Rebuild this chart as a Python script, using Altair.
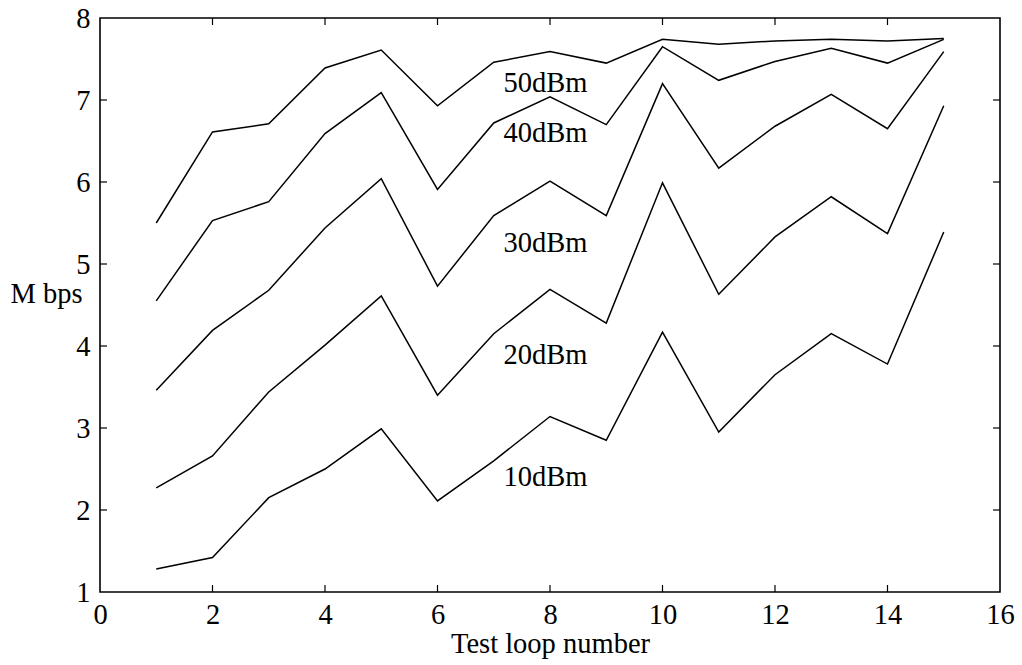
import altair as alt
import pandas as pd

loops = list(range(1, 16))
s50 = [5.50, 6.61, 6.71, 7.39, 7.61, 6.93, 7.46, 7.59, 7.45, 7.74, 7.68, 7.72, 7.74, 7.72, 7.75]
s40 = [4.55, 5.53, 5.76, 6.59, 7.09, 5.91, 6.72, 7.04, 6.70, 7.65, 7.24, 7.47, 7.63, 7.45, 7.74]
s30 = [3.46, 4.19, 4.68, 5.44, 6.04, 4.73, 5.59, 6.01, 5.59, 7.20, 6.17, 6.68, 7.07, 6.65, 7.59]
s20 = [2.27, 2.66, 3.44, 4.01, 4.61, 3.40, 4.15, 4.69, 4.28, 5.99, 4.63, 5.33, 5.82, 5.37, 6.93]
s10 = [1.28, 1.42, 2.15, 2.50, 2.99, 2.11, 2.60, 3.14, 2.85, 4.17, 2.95, 3.65, 4.15, 3.78, 5.39]

series_names = ["50dBm", "40dBm", "30dBm", "20dBm", "10dBm"]
label_x = [7.92, 7.92, 7.92, 7.92, 7.92]
label_y = [7.21, 6.60, 5.26, 3.89, 2.40]

x_ticks = [0, 2, 4, 6, 8, 10, 12, 14, 16]
y_ticks = [1, 2, 3, 4, 5, 6, 7, 8]

rows = []
for name, vals in zip(series_names, [s50, s40, s30, s20, s10]):
    for x, v in zip(loops, vals):
        rows.append({"loop": x, "mbps": v, "series": name})
df = pd.DataFrame(rows)
labels_df = pd.DataFrame({"x": label_x, "y": label_y, "text": series_names})
xt_df = pd.DataFrame({"t": x_ticks[1:-1]})
yt_df = pd.DataFrame({"t": y_ticks[1:-1]})

W, H = 900, 574
FONT = "Liberation Serif"
FS = 28.5

xscale = alt.Scale(domain=[0, 16], nice=False, zero=False)
yscale = alt.Scale(domain=[1, 8], nice=False, zero=False)

xaxis = alt.Axis(values=x_ticks, format="d", ticks=False, domain=False, grid=False,
                 labelPadding=8, title="Test loop number",
                 titleY=60, titleBaseline="alphabetic",
                 labelFlush=False)
yaxis = alt.Axis(values=y_ticks, format="d", ticks=False, domain=False, grid=False,
                 labelPadding=10, title="M bps", titleAngle=0,
                 titleX=-54, titleY=284, titleAlign="center",
                 titleBaseline="alphabetic", labelFlush=False)

lines = alt.Chart(df).mark_line(color="black", strokeWidth=1.5).encode(
    x=alt.X("loop:Q", scale=xscale, axis=xaxis),
    y=alt.Y("mbps:Q", scale=yscale, axis=yaxis),
    detail="series:N",
)

texts = alt.Chart(labels_df).mark_text(
    font=FONT, fontSize=FS, color="black", align="center", baseline="middle"
).encode(
    x=alt.X("x:Q", scale=xscale),
    y=alt.Y("y:Q", scale=yscale),
    text="text:N",
)

tick_len = 7
xt_bottom = alt.Chart(xt_df).mark_rule(color="black", strokeWidth=1.2).encode(
    x=alt.X("t:Q", scale=xscale), y=alt.value(H), y2=alt.value(H - tick_len))
xt_top = alt.Chart(xt_df).mark_rule(color="black", strokeWidth=1.2).encode(
    x=alt.X("t:Q", scale=xscale), y=alt.value(0), y2=alt.value(tick_len))
yt_left = alt.Chart(yt_df).mark_rule(color="black", strokeWidth=1.2).encode(
    y=alt.Y("t:Q", scale=yscale), x=alt.value(0), x2=alt.value(tick_len))
yt_right = alt.Chart(yt_df).mark_rule(color="black", strokeWidth=1.2).encode(
    y=alt.Y("t:Q", scale=yscale), x=alt.value(W), x2=alt.value(W - tick_len))

chart = alt.layer(lines, texts, xt_bottom, xt_top, yt_left, yt_right).properties(
    width=W, height=H,
    autosize=alt.AutoSizeParams(type="none"),
    padding={"left": 100, "top": 18, "right": 22, "bottom": 73},
    background="white",
).configure_view(
    stroke="black", strokeWidth=1.6
).configure_axis(
    labelFont=FONT, labelFontSize=FS, labelColor="black",
    titleFont=FONT, titleFontSize=FS, titleColor="black", titleFontWeight="normal",
)

chart.save("out.html", embed_options={"renderer": "svg", "actions": False})
